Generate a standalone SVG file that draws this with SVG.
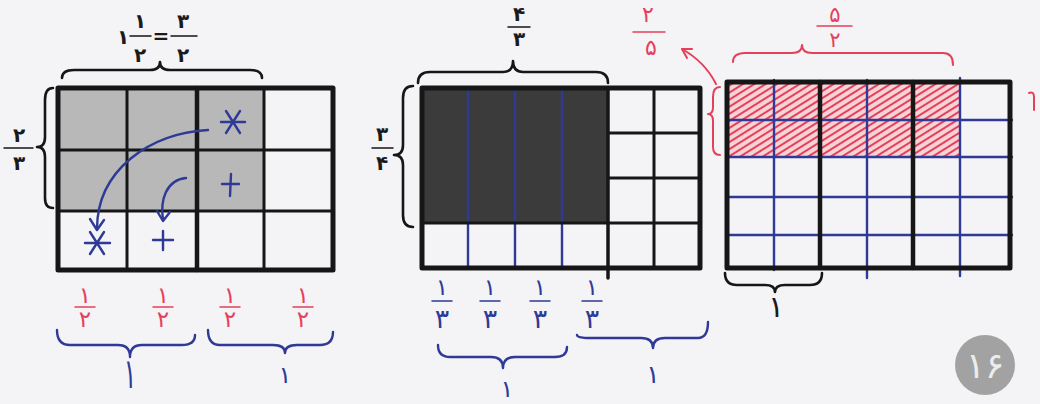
<svg xmlns="http://www.w3.org/2000/svg" width="1040" height="404" viewBox="0 0 1040 404">
<defs>
<style>
.bk{stroke:#161616;fill:none;stroke-linecap:round;stroke-linejoin:round}
.o{stroke-width:5}
.i{stroke-width:3}
.br{stroke:#161616;fill:none;stroke-width:2.6;stroke-linecap:round;stroke-linejoin:round}
.bl{stroke:#2e3a96;fill:none;stroke-width:2.4;stroke-linecap:round;stroke-linejoin:round}
.rd{stroke:#e5405a;fill:none;stroke-width:2;stroke-linecap:round;stroke-linejoin:round}
.t{font-family:"DejaVu Sans",sans-serif;text-anchor:middle}
.tk{fill:#1a1a1a;font-weight:bold}
.tb{fill:#2e3a96}
.tr{fill:#e5405a}
.fl{stroke-width:1.5}
</style>
<pattern id="hatch" width="6" height="6" patternUnits="userSpaceOnUse" patternTransform="rotate(-32)">
<line x1="0" y1="3" x2="6" y2="3" stroke="#e5405a" stroke-width="2"/>
</pattern>
</defs>
<rect width="1040" height="404" fill="#f4f3f6"/>

<g id="grid1">
<rect x="58" y="88" width="206" height="123" fill="#b8b8b8"/>
<line class="bk i" x1="127" y1="88" x2="127" y2="270"/>
<line class="bk" stroke-width="4.5" x1="197" y1="88" x2="197" y2="270"/>
<line class="bk i" x1="264" y1="88" x2="264" y2="270"/>
<line class="bk i" x1="58" y1="150" x2="333" y2="150"/>
<line class="bk i" x1="58" y1="211" x2="333" y2="211"/>
<rect class="bk o" x="58" y="88" width="275" height="182"/>
</g>
<g id="label-top1" font-size="20">
<path class="br" d="M62,78 Q62,70 74,70 L150,70 Q160,70 160,62 Q160,70 170,70 L250,70 Q262,70 262,78"/>
<text class="t tk" x="123" y="44">۱</text>
<text class="t tk" x="140" y="28">۱</text>
<line class="bk fl" x1="130" y1="36" x2="151" y2="36"/>
<text class="t tk" x="140" y="62">۲</text>
<text class="t tk" x="161" y="43">=</text>
<text class="t tk" x="183" y="28">۳</text>
<line class="bk fl" x1="171" y1="36" x2="197" y2="36"/>
<text class="t tk" x="183" y="62">۲</text>
</g>
<g id="label-left1" font-size="20">
<path class="br" d="M53,88 Q45,88 45,100 L45,137 Q45,147 37,147 Q45,147 45,157 L45,198 Q45,208 53,208"/>
<text class="t tk" x="19" y="142">۲</text>
<line class="bk fl" x1="4" y1="148" x2="33" y2="148"/>
<text class="t tk" x="19" y="170">۳</text>
</g>
<g id="marks1">
<g class="bl">
<line x1="221" y1="122" x2="245" y2="122"/>
<line x1="226" y1="111" x2="240" y2="133"/>
<line x1="240" y1="111" x2="226" y2="133"/>
<line x1="222" y1="184" x2="239" y2="184"/>
<line x1="231" y1="174" x2="230" y2="196"/>
<line x1="85" y1="243" x2="110" y2="243"/>
<line x1="90" y1="232" x2="104" y2="254"/>
<line x1="104" y1="232" x2="90" y2="254"/>
<line x1="153" y1="240" x2="173" y2="240"/>
<line x1="163" y1="231" x2="163" y2="250"/>
</g>
</g>
<g id="connectors">
<path class="bl" d="M208,130 C150,133 97,170 97,229"/>
<path class="bl" d="M90,219 L97,230 L104,220"/>
<path class="bl" d="M186,178 C166,180 160,200 163,220"/>
<path class="bl" d="M157,211 L163,221 L170,212"/>
<path class="rd" d="M716,84 Q705,62 682,49"/>
<path class="rd" d="M687,58 L682,49 L692,49"/>
</g>
<g id="below1" font-size="23">
<text class="t tr" x="85" y="303">۱</text>
<line class="rd fl" x1="75" y1="307" x2="95" y2="307"/>
<text class="t tr" x="85" y="327">۲</text>
<text class="t tr" x="163" y="303">۱</text>
<line class="rd fl" x1="153" y1="307" x2="173" y2="307"/>
<text class="t tr" x="163" y="327">۲</text>
<text class="t tr" x="230" y="303">۱</text>
<line class="rd fl" x1="220" y1="307" x2="240" y2="307"/>
<text class="t tr" x="230" y="327">۲</text>
<text class="t tr" x="303" y="303">۱</text>
<line class="rd fl" x1="293" y1="307" x2="313" y2="307"/>
<text class="t tr" x="303" y="327">۲</text>
<path class="bl" d="M57,330 Q57,345 70,345 L118,345 Q130,345 130,357 Q130,345 142,345 L182,345 Q195,345 195,335"/>
<text class="t tb" x="0" y="0" transform="translate(130,388) scale(0.9,1.6)" style="font-size:26px">۱</text>
<path class="bl" d="M208,330 Q208,345 220,345 L273,345 Q285,345 285,353 Q285,345 297,345 L320,345 Q333,345 333,332"/>
<text class="t tb" x="285" y="383" style="font-size:24px">۱</text>
</g>

<g id="grid2">
<rect x="422" y="88" width="186" height="135" fill="#3b3b3b"/>
<line class="bl" stroke-width="3" x1="468" y1="88" x2="468" y2="268"/>
<line class="bl" stroke-width="3" x1="515" y1="88" x2="515" y2="268"/>
<line class="bl" stroke-width="3" x1="562" y1="88" x2="562" y2="268"/>
<line class="bk" stroke-width="3.5" x1="608" y1="88" x2="608" y2="278"/>
<line class="bk i" x1="654" y1="88" x2="654" y2="268"/>
<line class="bk i" x1="608" y1="133" x2="700" y2="133"/>
<line class="bk i" x1="608" y1="178" x2="700" y2="178"/>
<line class="bk i" x1="422" y1="223" x2="700" y2="223"/>
<rect class="bk o" x="422" y="88" width="278" height="180"/>
</g>
<g id="label-top2" font-size="20">
<path class="br" d="M418,83 Q418,72 430,72 L503,72 Q513,72 513,61 Q513,72 523,72 L596,72 Q608,72 608,83"/>
<text class="t tk" x="519" y="21">۴</text>
<line class="bk fl" x1="508" y1="27" x2="530" y2="27"/>
<text class="t tk" x="519" y="46">۳</text>
</g>
<g id="label-left2" font-size="20">
<path class="br" d="M413,86 Q403,86 403,98 L403,145 Q403,155 394,155 Q403,155 403,165 L403,215 Q403,227 413,227"/>
<text class="t tk" x="382" y="141">۳</text>
<line class="bk fl" x1="372" y1="148" x2="393" y2="148"/>
<text class="t tk" x="382" y="170">۴</text>
</g>
<g id="below2" font-size="23">
<text class="t tb" x="442" y="295">۱</text>
<line class="bl fl" x1="432" y1="301" x2="452" y2="301"/>
<text class="t tb" x="442" y="328" style="font-size:27px">۳</text>
<text class="t tb" x="490" y="295">۱</text>
<line class="bl fl" x1="480" y1="301" x2="500" y2="301"/>
<text class="t tb" x="490" y="328" style="font-size:27px">۳</text>
<text class="t tb" x="540" y="295">۱</text>
<line class="bl fl" x1="530" y1="301" x2="550" y2="301"/>
<text class="t tb" x="540" y="328" style="font-size:27px">۳</text>
<text class="t tb" x="592" y="295">۱</text>
<line class="bl fl" x1="582" y1="301" x2="602" y2="301"/>
<text class="t tb" x="592" y="328" style="font-size:27px">۳</text>
<path class="bl" d="M438,345 Q438,357 450,357 L491,357 Q503,357 503,368 Q503,357 515,357 L555,357 Q567,357 567,347"/>
<text class="t tb" x="507" y="397" style="font-size:24px">۱</text>
<path class="bl" d="M577,335 Q577,338 590,338 L641,338 Q653,338 653,348 Q653,338 665,338 L698,338 Q708,338 708,322"/>
<text class="t tb" x="653" y="383" style="font-size:25px">۱</text>
</g>

<g id="grid3">
<rect x="727" y="82" width="233" height="37" fill="#f7d3d7"/>
<rect x="727" y="82" width="233" height="37" fill="url(#hatch)"/>
<rect x="727" y="121" width="233" height="36" fill="#f7d3d7"/>
<rect x="727" y="121" width="233" height="36" fill="url(#hatch)"/>
<line class="bl" x1="727" y1="120" x2="1012" y2="120"/>
<line class="bl" stroke-width="3" x1="727" y1="157" x2="1012" y2="157"/>
<line class="bl" x1="727" y1="197" x2="1012" y2="197"/>
<line class="bl" x1="727" y1="235" x2="1012" y2="235"/>
<line class="bl" x1="774" y1="80" x2="774" y2="270"/>
<line class="bl" x1="867" y1="80" x2="867" y2="278"/>
<line class="bl" x1="960" y1="78" x2="960" y2="276"/>
<line class="bk" stroke-width="4.5" x1="820" y1="82" x2="820" y2="268"/>
<line class="bk" stroke-width="4.5" x1="913" y1="82" x2="913" y2="268"/>
<rect class="bk o" x="727" y="82" width="283" height="186"/>
</g>
<g id="label-top3" font-size="21">
<path class="rd" d="M733,62 Q733,53 745,53 L792,53 Q802,53 802,45 Q802,53 812,53 L943,53 Q953,53 953,65"/>
<text class="t tr" x="835" y="22">۵</text>
<line class="rd fl" x1="817" y1="26" x2="852" y2="26"/>
<text class="t tr" x="835" y="47">۲</text>
</g>
<g id="label-left3" font-size="22">
<path class="rd" d="M720,87 Q713,87 713,97 L713,107 Q713,114 708,114 Q713,114 713,121 L713,147 Q713,155 720,155"/>
<text class="t tr" x="648" y="22">۲</text>
<line class="rd fl" x1="633" y1="32" x2="665" y2="32"/>
<text class="t tr" x="651" y="55">۵</text>
<path class="rd" d="M1029,93 Q1034,91 1034,97 L1034,110"/>
</g>
<g id="below3">
<path class="br" d="M725,273 Q725,285 737,285 L765,285 Q775,285 775,292 Q775,285 785,285 L810,285 Q822,285 822,273"/>
<text class="t tk" x="776" y="317" style="font-size:30px;font-weight:normal">۱</text>
</g>
<g id="page">
<circle cx="985" cy="365" r="30" fill="#a2a2a2"/>
<text class="t" x="985" y="378" style="font-size:36px" fill="#ececec">۱۶</text>
</g>
</svg>
